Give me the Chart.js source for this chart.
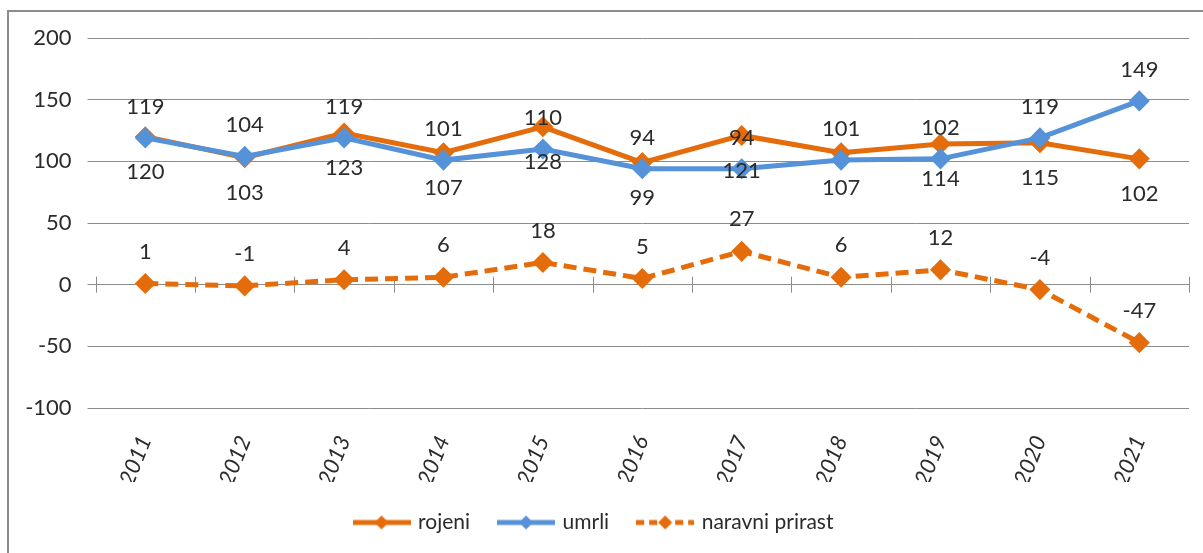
<!DOCTYPE html>
<html>
<head>
<meta charset="utf-8">
<script src="https://cdn.jsdelivr.net/npm/chart.js@4.4.0/dist/chart.umd.min.js"></script>
<style>
  html, body { margin: 0; padding: 0; background: #fff; overflow: hidden; }
  #frame {
    position: absolute; left: 7px; top: 10px; width: 1300px; height: 700px;
    border-left: 2px solid #8c8c8c; border-top: 2px solid #8c8c8c;
  }
  #chart { position: absolute; left: 0; top: 0; }
</style>
</head>
<body>
<div id="frame"></div>
<canvas id="chart" width="1203" height="553"></canvas>
<script>
const years = ['2011', '2012', '2013', '2014', '2015', '2016', '2017', '2018', '2019', '2020', '2021'];
const rojeni = [120, 103, 123, 107, 128, 99, 121, 107, 114, 115, 102];
const umrli = [119, 104, 119, 101, 110, 94, 94, 101, 102, 119, 149];
const prirast = [1, -1, 4, 6, 18, 5, 27, 6, 12, -4, -47];
const yMin = -100, yMax = 200, yStep = 50;

const ORANGE = '#E46C0A';
const BLUE = '#5592D8';
const FONT = 'Lato, "Liberation Sans", sans-serif';
const TEXT = '#2b2b2b';

// little line + diamond swatch for the legend
function swatch(color, dashed) {
    const c = document.createElement('canvas');
    c.width = 58; c.height = 18;
    const g = c.getContext('2d');
    g.strokeStyle = color;
    g.lineWidth = 5;
    if (dashed) g.setLineDash([8, 5]);
    g.beginPath(); g.moveTo(0, 9); g.lineTo(58, 9); g.stroke();
    g.fillStyle = color;
    g.beginPath(); g.moveTo(29, 2); g.lineTo(36, 9); g.lineTo(29, 16); g.lineTo(22, 9); g.closePath(); g.fill();
    return c;
}

const valueLabels = {
    id: 'valueLabels',
    afterDatasetsDraw(chart) {
        const ctx = chart.ctx;
        ctx.save();
        ctx.font = '22px ' + FONT;
        ctx.fillStyle = TEXT;
        ctx.textAlign = 'center';
        ctx.textBaseline = 'middle';
        chart.data.datasets.forEach((ds, i) => {
            const meta = chart.getDatasetMeta(i);
            meta.data.forEach((pt, j) => {
                ctx.fillText(String(ds.data[j]), pt.x, pt.y + ds.labelOffset);
            });
        });
        ctx.restore();
    }
};

// category ticks crossing the zero line
const zeroTicks = {
    id: 'zeroTicks',
    beforeDatasetsDraw(chart) {
        const x = chart.scales.x, y = chart.scales.y;
        const y0 = y.getPixelForValue(0);
        const ctx = chart.ctx;
        ctx.save();
        ctx.strokeStyle = '#8c8c8c';
        ctx.lineWidth = 1;
        ctx.beginPath();
        for (let i = 0; i <= years.length; i++) {
            const px = Math.round(x.getPixelForValue(i - 0.5)) + 0.5;
            ctx.moveTo(px, y0 - 8);
            ctx.lineTo(px, y0 + 8);
        }
        ctx.stroke();
        ctx.restore();
    }
};

const CHART_BOTTOM = 408;
const PAD_BOTTOM = 10;

new Chart(document.getElementById('chart'), {
    type: 'line',
    data: {
        labels: years,
        datasets: [
            { label: 'rojeni', data: rojeni, borderColor: ORANGE, backgroundColor: ORANGE, borderWidth: 5,
              pointStyle: 'rectRot', pointRadius: 7, order: 1, labelOffset: 35, swatch: swatch(ORANGE, false) },
            { label: 'umrli', data: umrli, borderColor: BLUE, backgroundColor: BLUE, borderWidth: 5,
              pointStyle: 'rectRot', pointRadius: 7, order: 0, labelOffset: -31, swatch: swatch(BLUE, false) },
            { label: 'naravni prirast', data: prirast, borderColor: ORANGE, backgroundColor: ORANGE, borderWidth: 5,
              borderDash: [13, 7], pointStyle: 'rectRot', pointRadius: 7, order: 2, labelOffset: -32, swatch: swatch(ORANGE, true) }
        ]
    },
    options: {
        responsive: false,
        animation: false,
        layout: { padding: { top: 38, right: 14, bottom: PAD_BOTTOM, left: 0 } },
        scales: {
            x: {
                offset: true,
                grid: { display: false },
                border: { display: false },
                ticks: {
                    minRotation: 68, maxRotation: 68, padding: 16, color: TEXT,
                    font: { family: FONT, size: 22, style: 'italic' }
                },
                afterFit(scale) {
                    const legendH = scale.chart.legend ? scale.chart.legend.height : 0;
                    scale.height = scale.chart.height - CHART_BOTTOM - legendH - PAD_BOTTOM;
                }
            },
            y: {
                min: yMin, max: yMax,
                ticks: { stepSize: yStep, padding: 16, color: TEXT, font: { family: FONT, size: 22 } },
                grid: { color: '#8c8c8c', lineWidth: 1, tickLength: 8, drawTicks: true },
                border: { display: false },
                afterFit(scale) { scale.width = 95.6; }
            }
        },
        plugins: {
            tooltip: { enabled: false },
            legend: {
                position: 'bottom',
                labels: {
                    usePointStyle: true,
                    pointStyleWidth: 52,
                    padding: 30,
                    color: TEXT,
                    font: { family: FONT, size: 21 },
                    generateLabels(chart) {
                        return chart.data.datasets.map((ds, i) => ({
                            text: ds.label,
                            pointStyle: ds.swatch,
                            fillStyle: ds.borderColor,
                            strokeStyle: ds.borderColor,
                            lineWidth: 0,
                            fontColor: TEXT,
                            hidden: false,
                            datasetIndex: i
                        }));
                    }
                }
            }
        }
    },
    plugins: [zeroTicks, valueLabels]
});
</script>
</body>
</html>
